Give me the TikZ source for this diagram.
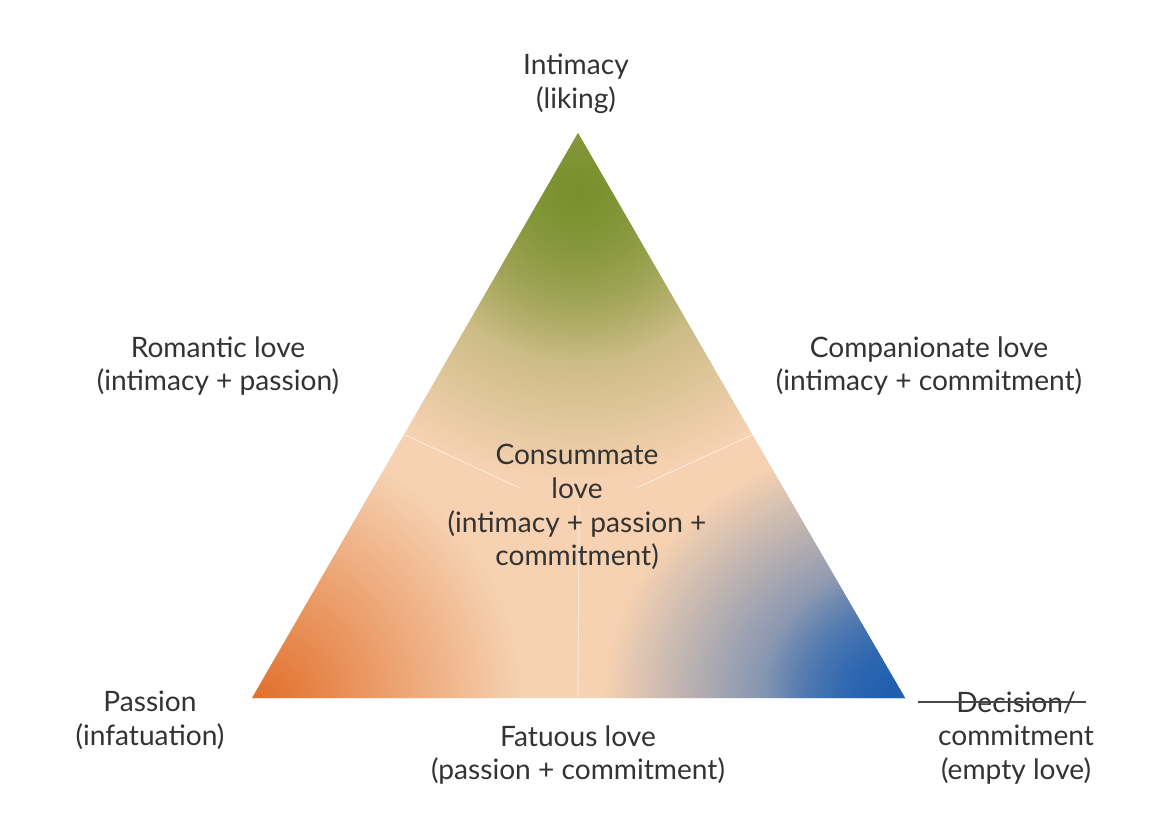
\documentclass[tikz,border=0pt]{standalone}
\usepackage{fontspec}
\setmainfont{Lato}
\usetikzlibrary{fadings}
\tikzfading[name=radfade, inner color=transparent!0, outer color=transparent!100]
\definecolor{peach}{HTML}{F6D2B2}
\definecolor{tgreen}{HTML}{78902C}
\definecolor{torange}{HTML}{E2702C}
\definecolor{tblue}{HTML}{1F5FB0}
\definecolor{txt}{HTML}{333333}
\tikzset{lbl/.style={align=center,text=txt,font=\fontsize{20}{24}\selectfont,inner sep=0pt},
 divider/.style={draw=white,opacity=0.6,line width=0.6pt}}
\begin{document}
\begin{tikzpicture}[x=0.025cm,y=-0.025cm]
\useasboundingbox[fill=white] (0,0) rectangle (1168,830);
\coordinate (T) at (578,133);
\coordinate (L) at (252,698);
\coordinate (R) at (905,698);
\begin{scope}
\clip (T) -- (L) -- (R) -- cycle;
\fill[peach] (T) -- (L) -- (R) -- cycle;
\fill[tgreen!80!peach, path fading=radfade] (578,190) ellipse (300 and 290);
\fill[tgreen, path fading=radfade] (578,190) ellipse (170 and 170);
\fill[torange, path fading=radfade] (260,700) ellipse (260 and 260);
\fill[tblue, path fading=radfade] (905,700) ellipse (300 and 260);
\fill[tblue, path fading=radfade] (905,700) ellipse (140 and 140);
\coordinate (ML) at (405,435);
\coordinate (MR) at (752,435);
\coordinate (MB) at (578,698);
\draw[divider] (ML) -- (520,488);
\draw[divider] (MR) -- (636,488);
\draw[divider] (MB) -- (579,505);
\end{scope}
\node[lbl] (top) at (576,84) {Intimacy\\(liking)};
\node[lbl] (rom) at (218,366) {Romantic love\\(intimacy + passion)};
\node[lbl] (comp) at (929,366) {Companionate love\\(intimacy + commitment)};
\node[lbl] (cons) at (577,507) {Consummate\\love\\(intimacy + passion +\\commitment)};
\node[lbl] (pas) at (150,720) {Passion\\(infatuation)};
\node[lbl] (fat) at (578,755) {Fatuous love\\(passion + commitment)};
\node[lbl] (dec) at (1016,738) {Decision/\\commitment\\(empty love)};
\draw[line width=1.5pt, draw=txt!90] ([xshift=-0.5cm,yshift=-0.27cm]dec.north west) -- ++(4.2cm,0);
\end{tikzpicture}
\end{document}
